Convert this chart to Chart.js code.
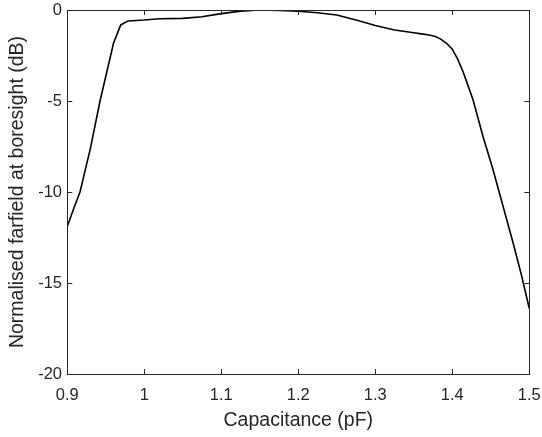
<!DOCTYPE html>
<html>
<head>
<meta charset="utf-8">
<script src="https://cdn.jsdelivr.net/npm/chart.js@4.4.1/dist/chart.umd.min.js"></script>
<style>
  html, body { margin: 0; padding: 0; background: #fff; }
  #wrap { position: relative; width: 542px; height: 437px; }
</style>
</head>
<body>
<div id="wrap"><canvas id="chart"></canvas></div>
<script>
// capacitance sweep (pF) and normalised farfield at boresight (dB)
const capacitance = [0.9, 0.908, 0.9165, 0.93, 0.9425, 0.96, 0.9694, 0.979, 1.0, 1.02, 1.05, 1.075,
  1.1, 1.125, 1.15, 1.175, 1.2, 1.225, 1.25, 1.275, 1.3, 1.325, 1.35, 1.36, 1.37, 1.378, 1.385,
  1.393, 1.4, 1.407, 1.414, 1.42, 1.427, 1.44, 1.453, 1.466, 1.479, 1.49, 1.5];
const farfield = [-11.9, -10.95, -10, -7.6, -5, -1.83, -0.82, -0.6, -0.55, -0.48, -0.46, -0.37,
  -0.2, -0.06, 0, -0.02, -0.07, -0.15, -0.27, -0.55, -0.85, -1.1, -1.25, -1.31, -1.37, -1.46, -1.6,
  -1.85, -2.15, -2.7, -3.39, -4.1, -4.95, -6.96, -8.79, -10.8, -12.8, -14.6, -16.4];

// tick values and labels
const xTickValues = [0.9, 1.0, 1.1, 1.2, 1.3, 1.4, 1.5];
const xTickLabels = ["0.9", "1", "1.1", "1.2", "1.3", "1.4", "1.5"];
const yTickValues = [-20, -15, -10, -5, 0];
const yTickLabels = ["-20", "-15", "-10", "-5", "0"];

const axisColor = "#262626";
const fontFamily = "'Liberation Sans', Arial, Helvetica, sans-serif";

// no extra room for overhanging tick labels, the layout padding does that
function noLabelPadding(scale) {
  scale.paddingLeft = 0;
  scale.paddingRight = 0;
  scale.paddingTop = 0;
  scale.paddingBottom = 0;
}

// matlab style box with inward ticks on all four sides
const boxPlugin = {
  id: "box",
  afterDatasetsDraw(chart) {
    const { ctx, chartArea: a, scales } = chart;
    const len = 5;
    ctx.save();
    ctx.strokeStyle = axisColor;
    ctx.lineWidth = 1;
    ctx.beginPath();
    scales.x.ticks.forEach((t) => {
      const px = Math.round(scales.x.getPixelForValue(t.value)) + 0.5;
      ctx.moveTo(px, a.bottom);
      ctx.lineTo(px, a.bottom - len);
      ctx.moveTo(px, a.top);
      ctx.lineTo(px, a.top + len);
    });
    scales.y.ticks.forEach((t) => {
      const py = Math.round(scales.y.getPixelForValue(t.value)) + 0.5;
      ctx.moveTo(a.left, py);
      ctx.lineTo(a.left + len, py);
      ctx.moveTo(a.right, py);
      ctx.lineTo(a.right - len, py);
    });
    ctx.stroke();
    ctx.strokeRect(Math.round(a.left) + 0.5, Math.round(a.top) + 0.5,
      Math.round(a.right - a.left), Math.round(a.bottom - a.top));
    ctx.restore();
  },
};

new Chart(document.getElementById("chart"), {
  type: "line",
  data: {
    datasets: [
      {
        data: capacitance.map((c, i) => ({ x: c, y: farfield[i] })),
        borderColor: "#000000",
        borderWidth: 1.6,
        pointRadius: 0,
        tension: 0,
        fill: false,
      },
    ],
  },
  options: {
    responsive: true,
    maintainAspectRatio: false,
    animation: false,
    layout: {
      padding: { left: 0, top: 10, right: 12.7, bottom: 0 },
    },
    plugins: {
      legend: { display: false },
      tooltip: { enabled: false },
    },
    scales: {
      x: {
        type: "linear",
        min: 0.9,
        max: 1.5,
        afterBuildTicks: (scale) => {
          scale.ticks = xTickValues.map((v) => ({ value: v }));
        },
        afterFit: (scale) => {
          scale.height = 63;
          noLabelPadding(scale);
        },
        grid: { display: false, drawTicks: false },
        border: { display: false },
        ticks: {
          padding: 11.6,
          color: axisColor,
          font: { family: fontFamily, size: 16.5 },
          maxRotation: 0,
          callback: (v, i) => xTickLabels[i],
        },
        title: {
          display: true,
          text: "Capacitance (pF)",
          color: axisColor,
          font: { family: fontFamily, size: 19.5 },
          padding: { top: 0, bottom: 4.3 },
        },
      },
      y: {
        type: "linear",
        min: -20,
        max: 0,
        afterBuildTicks: (scale) => {
          scale.ticks = yTickValues.map((v) => ({ value: v }));
        },
        afterFit: (scale) => {
          scale.width = 67.3;
          noLabelPadding(scale);
        },
        grid: { display: false, drawTicks: false },
        border: { display: false },
        ticks: {
          padding: 5.3,
          color: axisColor,
          font: { family: fontFamily, size: 16.5 },
          callback: (v, i) => yTickLabels[i],
        },
        title: {
          display: true,
          text: "Normalised farfield at boresight (dB)",
          color: axisColor,
          font: { family: fontFamily, size: 19.5 },
          padding: { top: 6.3, bottom: 0 },
        },
      },
    },
  },
  plugins: [boxPlugin],
});
</script>
</body>
</html>
